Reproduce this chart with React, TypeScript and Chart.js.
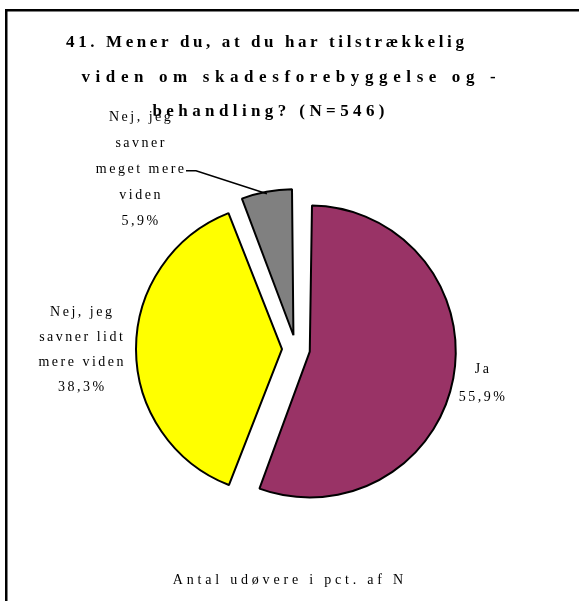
import React, { useEffect, useRef } from "react";
import { Chart, registerables } from "chart.js";

Chart.register(...registerables);

// ---- data ----
const titleLines = [
  "41. Mener du, at du har tilstrækkelig",
  "viden om skadesforebyggelse og -",
  "behandling? (N=546)",
];
const categories = ["Ja", "Nej, jeg savner lidt mere viden", "Nej, jeg savner meget mere viden"];
const categoryLines = [
  ["Ja"],
  ["Nej, jeg", "savner lidt", "mere viden"],
  ["Nej, jeg", "savner", "meget mere", "viden"],
];
const values = [55.9, 38.3, 5.9];
const caption = "Antal udøvere i pct. af N";

// ---- styles ----
const colors = ["#993366", "#FFFF00", "#808080"];
const EXPLODE = 56; // Chart.js shifts each slice by offset/4 = 14px
const PIE_R = 146;
const FONT = '"Liberation Serif", "Times New Roman", serif';
const titleX = [265, 288.5, 268.5];
const titleY = [47, 81.5, 116];
const titleLS = [3.6, 5.6, 4.4];
const labelStyle = [
  { dist: 43, dx: 0, dy: 0, lh: 28, leader: false },
  { dist: 69, dx: 0, dy: 0, lh: 25, leader: false },
  { dist: 12, dx: -127, dy: -24, lh: 26, leader: true },
];

function drawSpaced(ctx: CanvasRenderingContext2D, text: string, cx: number, y: number, ls: number) {
  (ctx as any).letterSpacing = ls + "px";
  const w = ctx.measureText(text).width - ls;
  ctx.textAlign = "left";
  ctx.fillText(text, cx - w / 2, y);
  return { left: cx - w / 2, right: cx + w / 2 };
}

const decorPlugin = {
  id: "decor",
  afterDatasetUpdate(chart: any) {
    // keep every exploded slice at the same visible radius
    const meta = chart.getDatasetMeta(0);
    meta.data.forEach((arc: any) => {
      const fix = 1 - Math.sin(Math.min(Math.PI, arc.circumference || 0));
      arc.outerRadius = PIE_R - (EXPLODE / 4) * fix;
    });
  },
  beforeDraw(chart: any) {
    const ctx = chart.ctx as CanvasRenderingContext2D;
    ctx.save();
    ctx.fillStyle = "#ffffff";
    ctx.fillRect(0, 0, chart.width, chart.height);
    ctx.fillStyle = "#000000";
    ctx.fillRect(5, 9, 2.5, chart.height - 9);
    ctx.fillRect(5, 9, chart.width - 5, 2.5);
    ctx.restore();
  },
  afterDraw(chart: any) {
    const ctx = chart.ctx as CanvasRenderingContext2D;
    ctx.save();
    ctx.fillStyle = "#000000";
    ctx.textBaseline = "alphabetic";
    ctx.font = `bold 17px ${FONT}`;
    titleLines.forEach((t, i) => drawSpaced(ctx, t, titleX[i], titleY[i], titleLS[i]));

    ctx.font = `14px ${FONT}`;
    ctx.textBaseline = "middle";
    const meta = chart.getDatasetMeta(0);
    meta.data.forEach((arc: any, i: number) => {
      const p = arc.getProps(["x", "y", "startAngle", "endAngle"], true);
      const mid = (p.startAngle + p.endAngle) / 2;
      const st = labelStyle[i];
      const ax = p.x + Math.cos(mid) * (PIE_R + st.dist);
      const ay = p.y + Math.sin(mid) * (PIE_R + st.dist);
      const bx = ax + st.dx;
      const by = ay + st.dy;
      const lines = [...categoryLines[i], values[i].toFixed(1).replace(".", ",") + "%"];
      const n = lines.length;
      let leaderRight = 0;
      let leaderY = 0;
      lines.forEach((ln, k) => {
        const yy = by + (k - (n - 1) / 2) * st.lh;
        const r = drawSpaced(ctx, ln, bx, yy, 2.5);
        if (k === 2) {
          leaderRight = r.right;
          leaderY = yy + 1;
        }
      });
      if (st.leader) {
        (ctx as any).letterSpacing = "0px";
        ctx.strokeStyle = "#000000";
        ctx.lineWidth = 1.5;
        ctx.beginPath();
        ctx.moveTo(leaderRight + 2, leaderY);
        ctx.lineTo(leaderRight + 12, leaderY);
        ctx.lineTo(ax, ay);
        ctx.stroke();
      }
    });

    ctx.textBaseline = "alphabetic";
    ctx.font = `14px ${FONT}`;
    drawSpaced(ctx, caption, 288, 584, 3.8);
    ctx.restore();
  },
};

export default function App() {
  const ref = useRef<HTMLCanvasElement | null>(null);
  useEffect(() => {
    if (!ref.current) return;
    const chart = new Chart(ref.current, {
      type: "pie",
      data: {
        labels: categories,
        datasets: [
          {
            data: values,
            backgroundColor: colors,
            borderColor: "#000000",
            borderWidth: 2,
            offset: EXPLODE,
          },
        ],
      },
      options: {
        responsive: false,
        animation: false,
        events: [],
        radius: PIE_R - EXPLODE / 4,
        rotation: 0,
        layout: { padding: { left: 20, right: 7, top: 120, bottom: 23 } },
        plugins: {
          legend: { display: false },
          title: { display: false },
          tooltip: { enabled: false },
        },
      } as any,
      plugins: [decorPlugin],
    });
    return () => chart.destroy();
  }, []);
  return (
    <div style={{ position: "absolute", left: 0, top: 0, width: 579, height: 601 }}>
      <canvas ref={ref} width={579} height={601} />
    </div>
  );
}
